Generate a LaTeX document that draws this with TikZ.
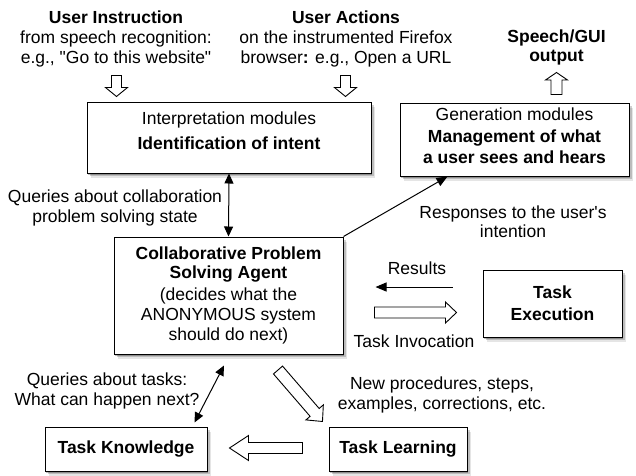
\documentclass[tikz,border=0pt]{standalone}
\usepackage{fontspec}
\setmainfont{Liberation Sans}[Ligatures=TeXOff]
\usetikzlibrary{calc,shadows,arrows.meta}
\tikzset{
  box/.style={draw, line width=1pt, fill=white, align=center, inner sep=0pt,
    drop shadow={shadow xshift=1pt, shadow yshift=-1.5pt, opacity=0.25, fill=black},
    drop shadow={shadow xshift=2.5pt, shadow yshift=-3pt, opacity=0.18, fill=black},
    drop shadow={shadow xshift=4pt, shadow yshift=-4.5pt, opacity=0.10, fill=black}},
  txt/.style={align=center, inner sep=0pt},
  hollow/.style={draw, line width=0.9pt, fill=white, line join=miter},
  thin/.style={line width=1pt, -{Triangle[length=11pt,width=9pt]}},
  dbl/.style={line width=1pt, {Triangle[length=10pt,width=9pt]}-{Triangle[length=10pt,width=9pt]}},
}
\newcommand\hollowarrow[5]{%
  \draw[hollow] let \p1=($(#2)-(#1)$), \n1={atan2(\y1,\x1)}, \n2={veclen(\x1,\y1)} in
    {[shift={(#1)}, rotate=\n1]
     (0pt,#3pt) -- ({\n2*1pt-#5pt},#3pt) -- ({\n2*1pt-#5pt},#4pt) -- ({\n2*1pt},0pt)
     -- ({\n2*1pt-#5pt},-#4pt) -- ({\n2*1pt-#5pt},-#3pt) -- (0pt,-#3pt) -- cycle};%
}
\begin{document}
\begin{tikzpicture}[x=1pt, y=-1pt, font=\fontsize{17.5}{20}\selectfont]
\useasboundingbox (0,0) rectangle (636,475);

% boxes
\node[box, minimum width=284, minimum height=71] (interp) at (229,137.5)
  {Interpretation modules\\[5pt]\textbf{Identification of intent}\rule[-14pt]{0pt}{0pt}};
\node[box, minimum width=229, minimum height=73] (gen) at (514.5,139.5)
  {Generation modules\\[2pt]\textbf{Management of what}\\[1pt]\textbf{a user sees and hears}\rule[-7pt]{0pt}{0pt}};
\node[box, minimum width=229, minimum height=117] (cpsa) at (228.5,295.5)
  {\textbf{Collaborative Problem}\\[-1pt]\textbf{Solving Agent}\\[2pt](decides what the\\ANONYMOUS system\\should do next)};
\node[box, minimum width=139, minimum height=67] (exec) at (552.5,303.5)
  {\textbf{Task}\\[2pt]\textbf{Execution}};
\node[box, minimum width=162, minimum height=44] (know) at (126,449)
  {\textbf{Task Knowledge}};
\node[box, minimum width=138, minimum height=44] (learn) at (398,449)
  {\textbf{Task Learning}};

% outside texts
\node[txt] (uinstr) at (116,38.5)
  {\textbf{User Instruction}\\from speech recognition:\\e.g., "Go to this website"};
\node[txt] (uact) at (346,38.5)
  {\textbf{User Actions}\\on the instrumented Firefox\\browser\textbf{:} e.g., Open a URL};
\node[txt] (speech) at (556.5,47)
  {\textbf{Speech/GUI}\\[-1pt]\textbf{output}};
\node[txt] (qcollab) at (115,208)
  {Queries about collaboration\\problem solving state};
\node[txt] (resp) at (513,222)
  {Responses to the user's\\[-1pt]intention};
\node[txt] (results) at (417,268) {Results};
\node[txt] (invoc) at (414,341) {Task Invocation};
\node[txt] (qtasks) at (107,390.5)
  {Queries about tasks:\\What can happen next?};
\node[txt] (newproc) at (442,395)
  {New procedures, steps,\\examples, corrections, etc.};

% thin connectors
\draw[dbl] (interp.south) -- (cpsa.north);
\draw[thin] (cpsa.north east) -- ($(gen.south west)+(48,0)$);
\coordinate (res1) at ($(exec.west)+(-30,-16.5)$);
\coordinate (res2) at ($(cpsa.east)+(32,-8.5)$);
\draw[thin] (res1) -- (res2);
\coordinate (qt1) at ($(cpsa.south)+(-4.5,11)$);
\coordinate (qt2) at ($(know.north east)+(-13,-4)$);
\draw[dbl] (qt1) -- (qt2);

% hollow arrows
\coordinate (ui1) at ($(interp.north west)+(30,-26)$);
\coordinate (ui2) at ($(interp.north west)+(30,-5)$);
\hollowarrow{ui1}{ui2}{5}{11}{9}
\coordinate (ua1) at ($(interp.north east)+(-26,-26)$);
\coordinate (ua2) at ($(interp.north east)+(-26,-5)$);
\hollowarrow{ua1}{ua2}{5}{11}{9}
\coordinate (so1) at ($(gen.north)+(42,-8)$);
\coordinate (so2) at ($(gen.north)+(42,-30)$);
\hollowarrow{so1}{so2}{5.5}{11}{7.5}
\coordinate (ti1) at ($(cpsa.east)+(31,17)$);
\coordinate (ti2) at ($(exec.west)+(-26,9)$);
\hollowarrow{ti1}{ti2}{5.5}{10.5}{11}
\coordinate (tl1) at ($(cpsa.south)+(49.5,15.5)$);
\coordinate (tl2) at ($(learn.north west)+(-6,-5)$);
\hollowarrow{tl1}{tl2}{6}{11.5}{12}
\coordinate (tk1) at ($(learn.west)+(-26,-1)$);
\coordinate (tk2) at ($(know.east)+(22,-1)$);
\hollowarrow{tk1}{tk2}{5.5}{12.5}{19}
\end{tikzpicture}
\end{document}
